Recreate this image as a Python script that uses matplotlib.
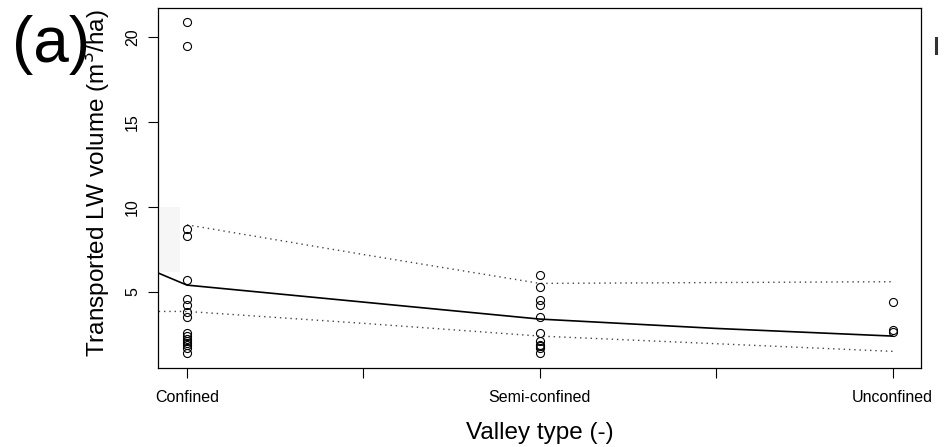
import matplotlib
matplotlib.use("Agg")
import matplotlib.pyplot as plt
from matplotlib.patches import Rectangle
from matplotlib.lines import Line2D

plt.rcParams['font.family'] = ['Liberation Sans', 'DejaVu Sans']

# valley types (x positions 1, 2, 3)
valley_types = ["Confined", "Semi-confined", "Unconfined"]

# observed transported LW volume per valley type (m3/ha)
confined_vals = [20.9, 19.5, 8.7, 8.3, 5.7, 4.6, 4.2, 3.8, 3.5,
                 2.6, 2.4, 2.2, 2.1, 2.0, 1.9, 1.7, 1.4]
semi_vals = [6.0, 5.3, 4.5, 4.2, 3.5, 2.6, 2.1, 1.9, 1.8, 1.7, 1.4]
unconf_vals = [4.4, 2.75, 2.65]

# fitted trend and its bounds
fit_x = [0.92, 1.0, 1.5, 2.0, 2.5, 3.0]
fit_mid = [6.1, 5.4, 4.4, 3.4, 2.85, 2.4]
upper_x = [1.0, 1.5, 2.0, 2.5, 3.0]
upper_y = [8.95, 7.2, 5.5, 5.55, 5.6]
lower_x = [0.92, 1.0, 1.5, 2.0, 2.5, 3.0]
lower_y = [3.85, 3.85, 3.15, 2.4, 1.95, 1.5]

fig = plt.figure(figsize=(9.45, 4.47), dpi=100)
ax = fig.add_axes([0.1672, 0.1767, 0.9751 - 0.1672, 0.981 - 0.1767])

# faint stippled patch near the left edge
ax.add_patch(Rectangle((0.925, 6.2), 0.055, 3.8, facecolor='#f6f6f6',
                       edgecolor='none', zorder=0))

groups = [confined_vals, semi_vals, unconf_vals]
for i, vals in enumerate(groups):
    ax.plot([i + 1] * len(vals), vals, linestyle='none', marker='o',
            markersize=5.8, markerfacecolor='none', markeredgecolor='black',
            markeredgewidth=0.8, zorder=3)

ax.plot(fit_x, fit_mid, color='black', linewidth=1.2, zorder=2)
ax.plot(upper_x, upper_y, color='#444444', linewidth=1.0,
        linestyle=(0, (1, 2.8)), zorder=2)
ax.plot(lower_x, lower_y, color='#444444', linewidth=1.0,
        linestyle=(0, (1, 2.8)), zorder=2)

ax.set_xlim(0.918, 3.082)
ax.set_ylim(0.52, 21.68)

ax.set_xticks([1, 1.5, 2, 2.5, 3])
ax.set_xticklabels([valley_types[0], "", valley_types[1], "", valley_types[2]])
ax.set_yticks([5, 10, 15, 20])
ax.set_yticklabels(["5", "10", "15", "20"], rotation=90, va='center')

ax.tick_params(axis='both', direction='out', length=7, width=0.8,
               labelsize=11.5, colors='black')
ax.tick_params(axis='x', pad=9)
ax.tick_params(axis='y', pad=6)
for s in ax.spines.values():
    s.set_linewidth(0.9)

ax.set_xlabel("Valley type (-)", fontsize=17.5, labelpad=12)
ax.set_ylabel("Transported LW volume (m$^3$/ha)", fontsize=17.5)
ax.yaxis.set_label_coords(-0.059, 0.515)

fig.text(12 / 945, 1 - 15 / 447, "(a)", fontsize=46, ha='left', va='top')

# edge of the neighbouring panel's label
fig.add_artist(Line2D([936 / 945, 936 / 945], [1 - 38 / 447, 1 - 53 / 447],
                      color='#333333', linewidth=2.2))

fig.savefig("out.png", dpi=100)
